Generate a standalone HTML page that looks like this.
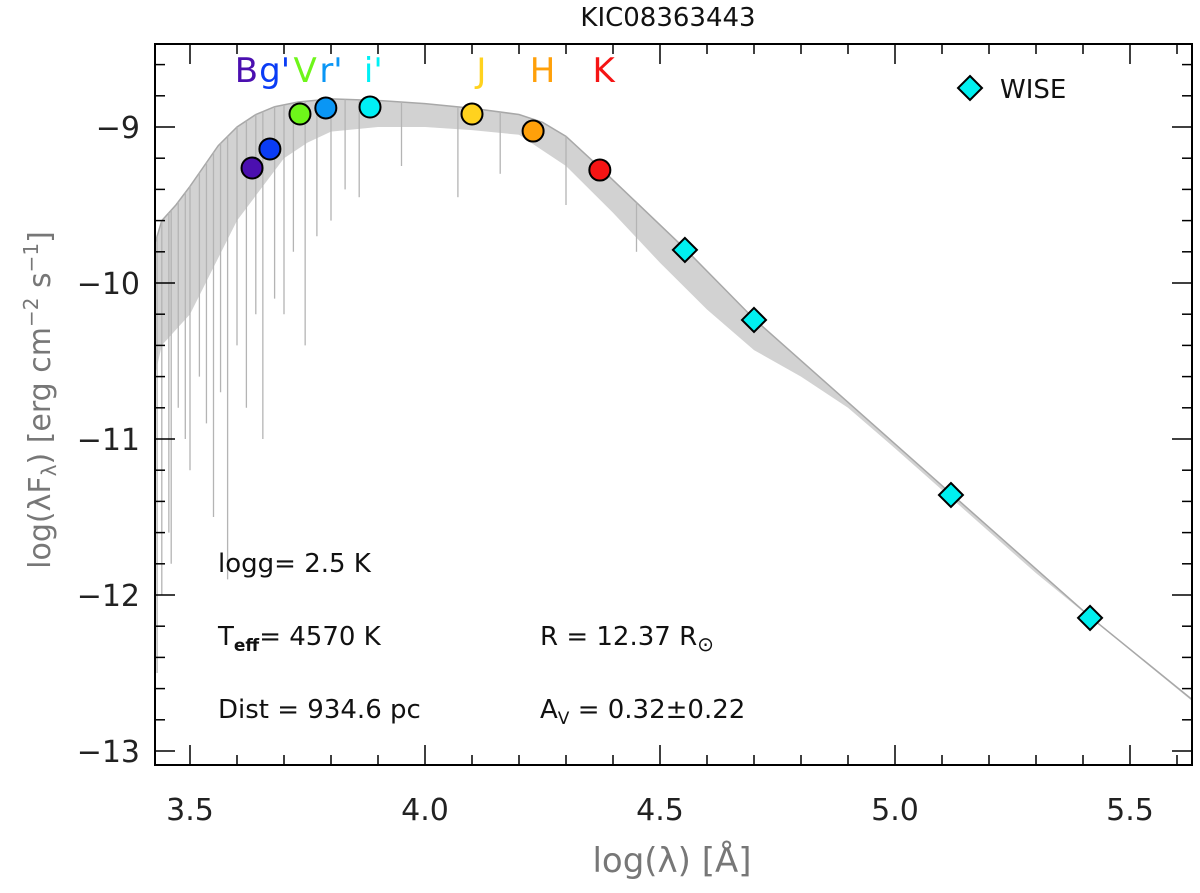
<!DOCTYPE html>
<html><head><meta charset="utf-8"><style>
body{margin:0;background:#fff;}
svg{display:block;font-family:"DejaVu Sans","Liberation Sans",sans-serif;}
</style></head><body>
<svg id="chart" width="1200" height="893"></svg>
<script>
const contX=[3.425,3.44,3.47,3.50,3.53,3.56,3.60,3.64,3.68,3.73,3.80,3.90,4.00,4.10,4.20,4.25,4.30,4.372,4.553,4.70,5.119,5.415,5.632];
const contY=[-9.75,-9.6,-9.5,-9.38,-9.25,-9.12,-9.0,-8.92,-8.87,-8.84,-8.82,-8.83,-8.85,-8.88,-8.92,-8.97,-9.06,-9.26,-9.78,-10.23,-11.35,-12.14,-12.67];
const lowX=[3.425,3.44,3.47,3.50,3.55,3.60,3.65,3.70,3.75,3.80,3.90,4.00,4.10,4.20,4.30,4.40,4.50,4.60,4.70,4.80,4.90,5.00,5.30,5.632];
const lowY=[-10.6,-10.4,-10.3,-10.2,-9.9,-9.6,-9.4,-9.2,-9.1,-9.03,-9.0,-9.0,-9.02,-9.05,-9.25,-9.55,-9.87,-10.17,-10.43,-10.6,-10.8,-11.06,-11.86,-12.68];
const lineX=[3.43,3.44,3.455,3.46,3.475,3.49,3.50,3.52,3.535,3.55,3.565,3.58,3.60,3.62,3.64,3.655,3.68,3.70,3.72,3.745,3.77,3.80,3.83,3.86,3.95,4.07,4.16,4.30,4.45];
const lineY=[-12.5,-12.0,-11.6,-11.8,-10.8,-11.0,-11.2,-10.6,-10.9,-11.5,-10.7,-11.9,-10.4,-10.8,-10.2,-11.0,-10.1,-10.2,-9.8,-10.4,-9.7,-9.6,-9.4,-9.45,-9.25,-9.45,-9.3,-9.5,-9.8];
const bandNames=["B","g'","V","r'","i'","J","H","K"];
const bandX=[3.632,3.670,3.734,3.789,3.883,4.100,4.230,4.372];
const bandY=[-9.263,-9.141,-8.917,-8.878,-8.872,-8.917,-9.026,-9.276];
const bandCol=["#4b0fb0","#0a3cf5","#6ef51a","#0a96f5","#00f0f5","#ffd21e","#ffa00a","#f51414"];
const labelX=[3.62,3.68,3.745,3.80,3.89,4.12,4.25,4.38];
const wiseX=[4.553,4.700,5.119,5.415];
const wiseY=[-9.788,-10.237,-11.359,-12.147];
const xTicks=[3.5,4.0,4.5,5.0,5.5];
const xTickLabels=["3.5","4.0","4.5","5.0","5.5"];
const yTicks=[-9,-10,-11,-12,-13];
const yTickLabels=["−9","−10","−11","−12","−13"];

const L=155,R=1192,T=44,B=765;
const X=v=>190+(v-3.5)*470;
const Y=v=>127+(-9-v)*156;
const svg=document.getElementById('chart');
const NS="http://www.w3.org/2000/svg";
function mk(tag,at,parent){const e=document.createElementNS(NS,tag);for(const k in at)e.setAttribute(k,at[k]);(parent||svg).appendChild(e);return e;}
const clip=mk('clipPath',{id:'pc'});mk('rect',{x:L,y:T,width:R-L,height:B-T},clip);
const g=mk('g',{'clip-path':'url(#pc)'});
let d='M'+contX.map((x,i)=>X(x)+','+Y(contY[i])).join('L');
d+='L'+lowX.slice().reverse().map((x,i)=>X(x)+','+Y(lowY[lowY.length-1-i])).join('L')+'Z';
let sp=mk('path',{d:d,fill:'#d2d2d2',stroke:'none'},g);


let cl=mk('path',{d:'M'+contX.map((x,i)=>X(x)+','+Y(contY[i])).join('L'),fill:'none',stroke:'#a8a8a8','stroke-width':1.5},g);


lineX.forEach((x,i)=>{
  let yc=Y(-8.85);
  for(let j=0;j<contX.length-1;j++){if(x>=contX[j]&&x<=contX[j+1]){const t=(x-contX[j])/(contX[j+1]-contX[j]);yc=Y(contY[j]+t*(contY[j+1]-contY[j]));}}
  const l=mk('line',{x1:X(x),x2:X(x),y1:yc,y2:Y(lineY[i]),stroke:'#b4b4b4','stroke-width':1.3},g);
  
  
});
const box=mk('rect',{x:L,y:T,width:R-L,height:B-T,fill:'none',stroke:'#000','stroke-width':2});


for(let v=3.5;v<=5.6;v+=0.1){const xx=X(v);if(xx<L||xx>R)continue;const maj=Math.abs(v*2-Math.round(v*2))<1e-6;const h=maj?20:10;
  mk('line',{x1:xx,x2:xx,y1:B,y2:B-h,stroke:'#000','stroke-width':1.5});mk('line',{x1:xx,x2:xx,y1:T,y2:T+h,stroke:'#000','stroke-width':1.5});}
for(let v=-8.4;v>=-13.1;v-=0.2){const yy=Y(v);if(yy<T||yy>B)continue;const maj=Math.abs(v-Math.round(v))<1e-6;const h=maj?20:10;
  mk('line',{x1:L,x2:L+h,y1:yy,y2:yy,stroke:'#000','stroke-width':1.5});mk('line',{x1:R,x2:R-h,y1:yy,y2:yy,stroke:'#000','stroke-width':1.5});}
xTicks.forEach((v,i)=>{const t=mk('text',{x:X(v),y:820,'font-size':30,'text-anchor':'middle',fill:'#222'});t.textContent=xTickLabels[i];
  });
yTicks.forEach((v,i)=>{const t=mk('text',{x:140,y:Y(v)+11,'font-size':30,'text-anchor':'end',fill:'#222'});t.textContent=yTickLabels[i];
  });
bandX.forEach((x,i)=>{const c=mk('circle',{cx:X(x),cy:Y(bandY[i]),r:10.5,fill:bandCol[i],stroke:'#000','stroke-width':2});
  
  const t=mk('text',{x:X(labelX[i]),y:82,'font-size':34,'text-anchor':'middle',fill:bandCol[i]});t.textContent=bandNames[i];
  });
wiseX.forEach((x,i)=>{const cx=X(x),cy=Y(wiseY[i]),s=12;
  const p=mk('polygon',{points:`${cx},${cy-s} ${cx+s},${cy} ${cx},${cy+s} ${cx-s},${cy}`,fill:'#00f0f0',stroke:'#000','stroke-width':2});
  });
</script>
<svg style="position:absolute;left:0;top:0" width="1200" height="893">
<g font-family="DejaVu Sans, Liberation Sans, sans-serif" fill="#111">
<text x="668" y="26" font-size="26" text-anchor="middle">KIC08363443</text>
<text x="672" y="872" font-size="34" text-anchor="middle" fill="#777">log(λ) [Å]</text>
<text transform="translate(50,400) rotate(-90)" font-size="30" text-anchor="middle" fill="#777">log(λF<tspan font-size="20" dy="6">λ</tspan><tspan dy="-6">) [erg cm</tspan><tspan font-size="20" dy="-12">−2</tspan><tspan dy="12"> s</tspan><tspan font-size="20" dy="-12">−1</tspan><tspan dy="12">]</tspan></text>
<polygon points="970,76 982,88 970,100 958,88" fill="#00f0f0" stroke="#000" stroke-width="2"/>
<text x="1000" y="98" font-size="26">WISE</text>
<text x="218" y="572" font-size="26">logg= 2.5 K</text>
<text x="218" y="645" font-size="26">T<tspan font-size="17" dy="6" font-weight="bold">eff</tspan><tspan dy="-6">= 4570 K</tspan></text>
<text x="218" y="718" font-size="26">Dist = 934.6 pc</text>
<text x="540" y="645" font-size="26">R = 12.37 R<tspan font-size="20" dy="6">⊙</tspan></text>
<text x="540" y="718" font-size="26">A<tspan font-size="17" dy="6">V</tspan><tspan dy="-6"> = 0.32±0.22</tspan></text>
</g></svg>
</body></html>
